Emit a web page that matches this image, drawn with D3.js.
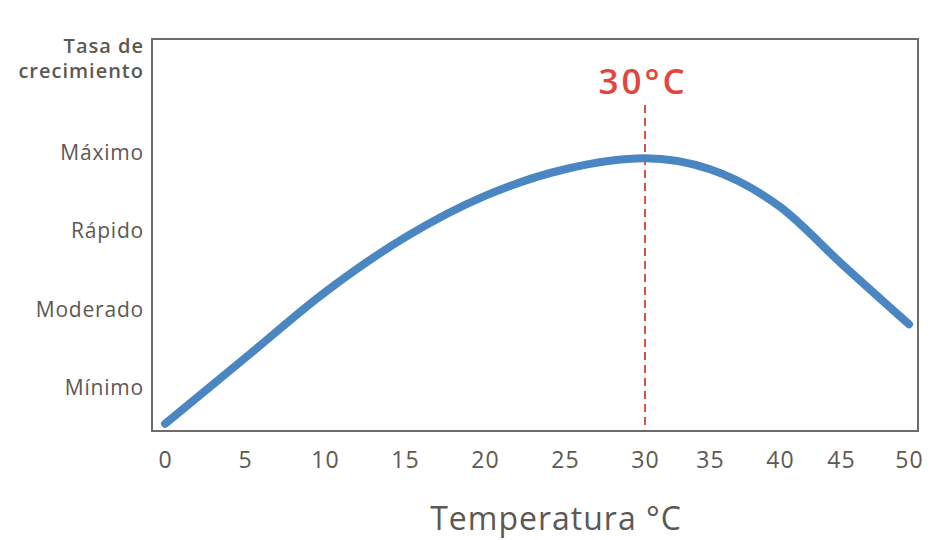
<!DOCTYPE html>
<html>
<head>
<meta charset="utf-8">
<script src="https://cdn.jsdelivr.net/npm/d3@7"></script>
<style>
  html, body { margin: 0; padding: 0; background: #fff; }
  svg { display: block; font-family: "Open Sans", sans-serif; }
</style>
</head>
<body>
<svg id="chart" width="945" height="540"></svg>
<script>
// ---- data ----
const xTicks = [0, 5, 10, 15, 20, 25, 30, 35, 40, 45, 50];
const levelValues = [1, 2, 3, 4];
const levelLabels = ["Mínimo", "Moderado", "Rápido", "Máximo"];
const temps = [0, 5, 10, 15, 20, 25, 30, 35, 40, 45, 50];
const rates = [0.53, 1.37, 2.21, 2.91, 3.44, 3.78, 3.92, 3.78, 3.30, 2.58, 1.80];
const optimumTemp = 30;
const yTitle = ["Tasa de", "crecimiento"];
const xTitle = "Temperatura °C";
const optimumLabel = "30°C";

// ---- layout ----
const frame = { left: 152, right: 918, top: 39, bottom: 431 };
const svg = d3.select("#chart");

// x positions of the original tick labels are slightly irregular past 30
const x = d3.scaleLinear()
  .domain([0, 30, 35, 40, 45, 50])
  .range([165, 645, 710, 780, 841, 909]);
const y = d3.scaleLinear().domain([1, 4]).range([387, 152]);

const textColor = "#5d5852";

// frame
svg.append("rect")
  .attr("x", frame.left).attr("y", frame.top)
  .attr("width", frame.right - frame.left)
  .attr("height", frame.bottom - frame.top)
  .attr("fill", "none")
  .attr("stroke", "#6e6a64")
  .attr("stroke-width", 2);

// x axis labels
const xAxis = d3.axisBottom(x).tickValues(xTicks).tickSize(0).tickPadding(0).tickFormat(d3.format("d"));
const gx = svg.append("g").attr("transform", `translate(0, 468)`).call(xAxis);
gx.select(".domain").remove();
gx.selectAll("text")
  .attr("dy", 0)
  .attr("fill", textColor)
  .style("font-size", "23px")
  .style("letter-spacing", "1px")
  .style("font-family", "'Open Sans', sans-serif");

// y axis labels
const yAxis = d3.axisLeft(y).tickValues(levelValues).tickSize(0).tickPadding(0)
  .tickFormat(d => levelLabels[levelValues.indexOf(d)]);
const gy = svg.append("g").attr("transform", `translate(144, 0)`).call(yAxis);
gy.select(".domain").remove();
gy.selectAll("text")
  .attr("dy", "0.36em")
  .attr("fill", textColor)
  .style("font-size", "21px")
  .style("letter-spacing", "0.8px")
  .style("font-family", "'Open Sans', sans-serif");

// y title
svg.append("g").selectAll("text").data(yTitle).join("text")
  .attr("x", 144)
  .attr("y", (d, i) => 53 + i * 25)
  .attr("text-anchor", "end")
  .attr("fill", textColor)
  .style("font-size", "20px")
  .style("font-weight", 600)
  .style("letter-spacing", "1px")
  .text(d => d);

// x title
svg.append("text")
  .attr("x", 556).attr("y", 530)
  .attr("text-anchor", "middle")
  .attr("fill", textColor)
  .style("font-size", "32px")
  .style("letter-spacing", "1px")
  .text(xTitle);

// optimum dashed line
svg.append("line")
  .attr("x1", x(optimumTemp)).attr("x2", x(optimumTemp))
  .attr("y1", 105).attr("y2", frame.bottom - 2)
  .attr("stroke", "#d5524c")
  .attr("stroke-width", 2)
  .attr("stroke-dasharray", "8,5");

// optimum label
svg.append("text")
  .attr("x", x(optimumTemp) - 2).attr("y", 94)
  .attr("text-anchor", "middle")
  .attr("fill", "#e2463c")
  .style("font-size", "35px")
  .style("font-weight", 600)
  .style("letter-spacing", "3px")
  .text(optimumLabel);

// curve
const pts = temps.map((t, i) => [t, rates[i]]);
const line = d3.line()
  .x(d => x(d[0]))
  .y(d => y(d[1]))
  .curve(d3.curveMonotoneX);
svg.append("path")
  .datum(pts)
  .attr("d", line)
  .attr("fill", "none")
  .attr("stroke", "#4a86c1")
  .attr("stroke-width", 8)
  .attr("stroke-linecap", "round")
  .attr("stroke-linejoin", "round");
</script>
</body>
</html>
